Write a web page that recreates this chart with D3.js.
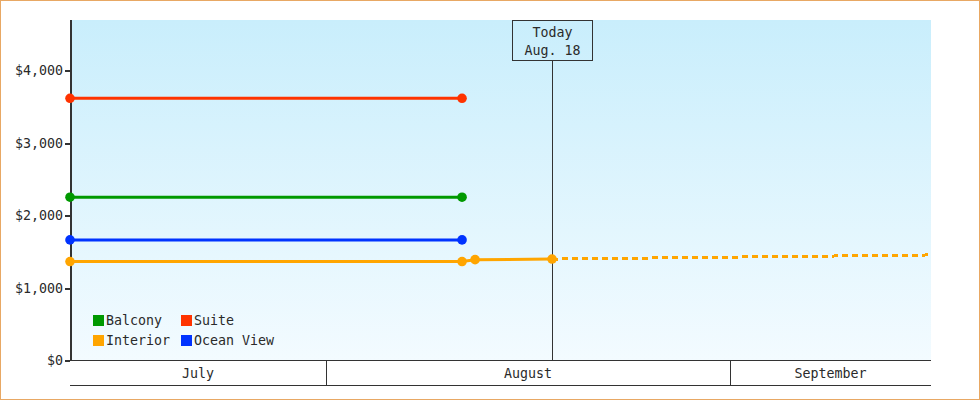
<!DOCTYPE html>
<html><head><meta charset="utf-8">
<script src="https://cdn.jsdelivr.net/npm/d3@7"></script>
<style>
html,body{margin:0;padding:0;background:#fff;}
svg{display:block;}
text{font-family:"DejaVu Sans Mono",monospace;font-size:13.3px;fill:#2a2a2a;}
</style></head><body>
<svg id="c" width="980" height="400"></svg>
<script>
// ---- data ----
const seriesNames = ["Balcony", "Suite", "Interior", "Ocean View"];
const seriesColors = ["#009900", "#ff3300", "#ffa500", "#0033ff"];
const balconyDates = ["2023-07-12T08:30", "2023-08-11T10:30"];
const balconyValues = [2254, 2254];
const suiteDates = ["2023-07-12T08:30", "2023-08-11T10:30"];
const suiteValues = [3619, 3619];
const oceanDates = ["2023-07-12T08:30", "2023-08-11T10:30"];
const oceanValues = [1665, 1665];
const interiorDates = ["2023-07-12T08:30", "2023-08-11T10:30", "2023-08-12T10:30", "2023-08-18T08:15"];
const interiorValues = [1366, 1366, 1392, 1400];
const forecastDates = ["2023-08-18T08:15", "2023-09-16T10:10"];
const forecastValues = [1400, 1457];
const todayDate = "2023-08-18T08:15";
const todayLabel = ["Today", "Aug. 18"];
const xDomain = ["2023-07-12T08:30", "2023-09-16T10:10"];
const yTicks = [0, 1000, 2000, 3000, 4000];
const yMax = 4700;

const svg = d3.select("#c");
const W = 980, H = 400;
const L = 70, R = 931, T = 20, B = 360.5;
const parse = s => new Date(s);
const FONT = '"DejaVu Sans Mono",monospace';

const x = d3.scaleTime().domain(xDomain.map(parse)).range([L, R]);
const y = d3.scaleLinear().domain([0, yMax]).range([B, T]);

// outer border
svg.append("rect").attr("x", 0.5).attr("y", 0.5).attr("width", W - 1).attr("height", H - 1)
  .attr("fill", "#fff").attr("stroke", "#e8a864").attr("stroke-width", 1);

// gradient background
const defs = svg.append("defs");
const g = defs.append("linearGradient").attr("id", "bg").attr("x1", 0).attr("y1", 0).attr("x2", 0).attr("y2", 1);
g.append("stop").attr("offset", "0%").attr("stop-color", "#c9eefc");
g.append("stop").attr("offset", "100%").attr("stop-color", "#f3fbff");
svg.append("rect").attr("x", L).attr("y", T).attr("width", R - L).attr("height", 360 - T).attr("fill", "url(#bg)");

// month band
const bandTop = 360.5, bandBot = 385.5;
svg.append("line").attr("x1", L).attr("x2", R).attr("y1", bandTop).attr("y2", bandTop).attr("stroke", "#333");
svg.append("line").attr("x1", L).attr("x2", R).attr("y1", bandBot).attr("y2", bandBot).attr("stroke", "#333");
const [d0, d1] = x.domain();
const monthStarts = d3.timeMonth.range(d3.timeMonth.floor(d0), d1);
monthStarts.forEach((m, i) => {
  const s = Math.max(+m, +d0), e = Math.min(+d3.timeMonth.offset(m, 1), +d1);
  const xs = x(new Date(s)), xe = x(new Date(e));
  if (i > 0) svg.append("line").attr("x1", Math.round(xs) + 0.5).attr("x2", Math.round(xs) + 0.5)
    .attr("y1", bandTop).attr("y2", bandBot).attr("stroke", "#333");
  svg.append("text").attr("x", (xs + xe) / 2).attr("y", 378).attr("text-anchor", "middle")
    .text(d3.timeFormat("%B")(m));
});

// y axis
const yAxis = svg.append("g").attr("transform", `translate(${L},0)`)
  .call(d3.axisLeft(y).tickValues(yTicks).tickFormat(d3.format("$,")).tickSize(5).tickPadding(2));
yAxis.select(".domain").remove();
yAxis.selectAll(".tick line").attr("stroke", "#333").attr("stroke-width", 2).attr("shape-rendering", "crispEdges");
yAxis.selectAll(".tick text").attr("fill", "#2a2a2a").style("font-family", FONT).style("font-size", "13.3px");
svg.append("line").attr("x1", L + 1).attr("x2", L + 1).attr("y1", T).attr("y2", 361).attr("stroke", "#333").attr("stroke-width", 2);

// today marker
const tx = Math.round(x(parse(todayDate))) + 0.5;
svg.append("line").attr("x1", tx).attr("x2", tx).attr("y1", 60).attr("y2", 360).attr("stroke", "#333");
svg.append("rect").attr("x", tx - 40).attr("y", 20.5).attr("width", 80).attr("height", 40)
  .attr("fill", "none").attr("stroke", "#333");
todayLabel.forEach((t, i) => svg.append("text").attr("x", tx).attr("y", 37 + i * 18).attr("text-anchor", "middle").text(t));

// series
const line = d3.line().x(d => x(d[0])).y(d => y(d[1]));
const series = [
  {name: "Suite", dates: suiteDates, values: suiteValues},
  {name: "Balcony", dates: balconyDates, values: balconyValues},
  {name: "Ocean View", dates: oceanDates, values: oceanValues},
  {name: "Interior", dates: interiorDates, values: interiorValues}
];
const colorOf = n => seriesColors[seriesNames.indexOf(n)];

// forecast dashed
const fpts = forecastDates.map((d, i) => [parse(d), forecastValues[i]]);
svg.append("path").attr("d", line(fpts)).attr("fill", "none").attr("stroke", colorOf("Interior"))
  .attr("stroke-width", 3).attr("stroke-dasharray", "6,4").attr("shape-rendering", "crispEdges");

series.forEach(s => {
  const pts = s.dates.map((d, i) => [parse(d), s.values[i]]);
  svg.append("path").attr("d", line(pts)).attr("fill", "none").attr("stroke", colorOf(s.name))
    .attr("stroke-width", 3);
  svg.selectAll(null).data(pts).enter().append("circle")
    .attr("cx", d => x(d[0])).attr("cy", d => y(d[1])).attr("r", 4.8).attr("fill", colorOf(s.name));
});

// legend
const legendOrder = ["Balcony", "Suite", "Interior", "Ocean View"];
legendOrder.forEach((n, i) => {
  const col = i % 2, row = Math.floor(i / 2);
  const lx = 93 + col * 88, ly = 315 + row * 20;
  svg.append("rect").attr("x", lx).attr("y", ly).attr("width", 11).attr("height", 11).attr("fill", colorOf(n));
  svg.append("text").attr("x", lx + 13).attr("y", ly + 10).text(n);
});
</script>
</body></html>
